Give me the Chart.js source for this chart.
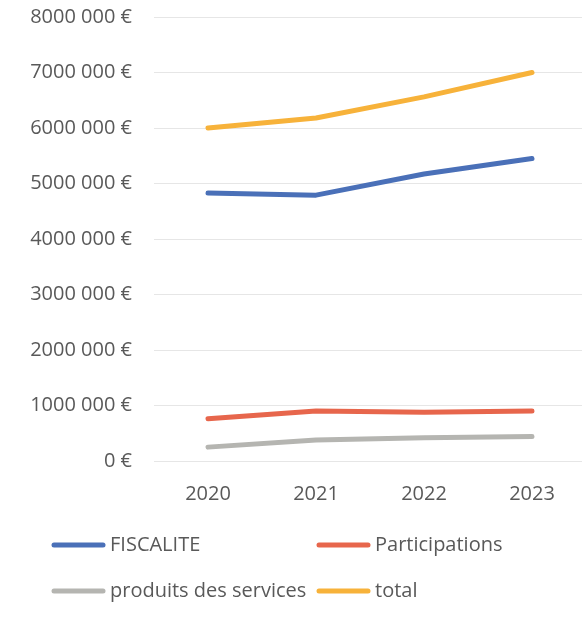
<!DOCTYPE html>
<html><head><meta charset="utf-8">
<script src="https://cdn.jsdelivr.net/npm/chart.js@4"></script>
<style>
html,body{margin:0;padding:0;background:#fff;overflow:hidden;width:582px;height:621px}
#wrap{position:absolute;left:0;top:0;width:600px;height:621px}
</style></head><body>
<div id="wrap"><canvas id="c" width="600" height="621"></canvas></div>
<script>
const categories = ['2020', '2021', '2022', '2023'];
const fiscalite = [4830000, 4790000, 5170000, 5450000];
const participations = [760000, 900000, 880000, 900000];
const produitsServices = [250000, 380000, 420000, 440000];
const total = [6000000, 6180000, 6560000, 7000000];
const seriesNames = ['FISCALITE', 'Participations', 'produits des services', 'total'];
const yTickValues = [0, 1000000, 2000000, 3000000, 4000000, 5000000, 6000000, 7000000, 8000000];
const yTickLabels = ['0 €', '1000 000 €', '2000 000 €', '3000 000 €', '4000 000 €', '5000 000 €', '6000 000 €', '7000 000 €', '8000 000 €'];

const colors = ['#4A70B8', '#E7664C', '#B5B5B1', '#F7B23A'];
const textColor = '#595959';
const fontFamily = '"Open Sans", "DejaVu Sans", sans-serif';

Chart.defaults.font.family = fontFamily;
Chart.defaults.color = textColor;

const legendPlugin = {
  id: 'xlLegend',
  afterDraw(chart) {
    const ctx = chart.ctx;
    const pos = [[52, 545], [317, 545], [52, 591], [317, 591]];
    chart.data.datasets.forEach((ds, i) => {
      const [x, y] = pos[i];
      ctx.save();
      ctx.strokeStyle = ds.borderColor;
      ctx.lineWidth = 5;
      ctx.lineCap = 'round';
      ctx.beginPath();
      ctx.moveTo(x + 2, y);
      ctx.lineTo(x + 51, y);
      ctx.stroke();
      ctx.fillStyle = textColor;
      ctx.font = '20px ' + fontFamily;
      ctx.textBaseline = 'middle';
      ctx.fillText(ds.label, x + 58, y);
      ctx.restore();
    });
  }
};

const values = [fiscalite, participations, produitsServices, total];

new Chart(document.getElementById('c'), {
  type: 'line',
  data: {
    labels: categories,
    datasets: values.map((v, i) => ({
      label: seriesNames[i],
      data: v,
      borderColor: colors[i],
      backgroundColor: colors[i],
      borderWidth: 5,
      pointRadius: 0,
      tension: 0,
      borderCapStyle: 'round',
      borderJoinStyle: 'round',
      fill: false
    }))
  },
  options: {
    responsive: false,
    animation: false,
    layout: { padding: { left: 0, right: 14, top: 17, bottom: 110 } },
    plugins: { legend: { display: false }, tooltip: { enabled: false } },
    scales: {
      x: {
        offset: true,
        grid: { display: false },
        border: { display: false },
        ticks: { font: { size: 20 }, color: textColor, padding: 13 },
        afterFit(scale) { scale.height = 50; scale.paddingLeft = 0; scale.paddingRight = 0; }
      },
      y: {
        min: 0,
        max: 8000000,
        grid: { color: '#E6E6E6', lineWidth: 1, drawTicks: false },
        border: { display: false },
        afterBuildTicks(scale) { scale.ticks = yTickValues.map(v => ({ value: v })); },
        ticks: {
          font: { size: 20 },
          color: textColor,
          padding: 22,
          callback: (v) => yTickLabels[yTickValues.indexOf(v)]
        },
        afterFit(scale) { scale.width = 154; scale.paddingTop = 0; scale.paddingBottom = 0; }
      }
    }
  },
  plugins: [legendPlugin]
});
</script>
</body></html>
